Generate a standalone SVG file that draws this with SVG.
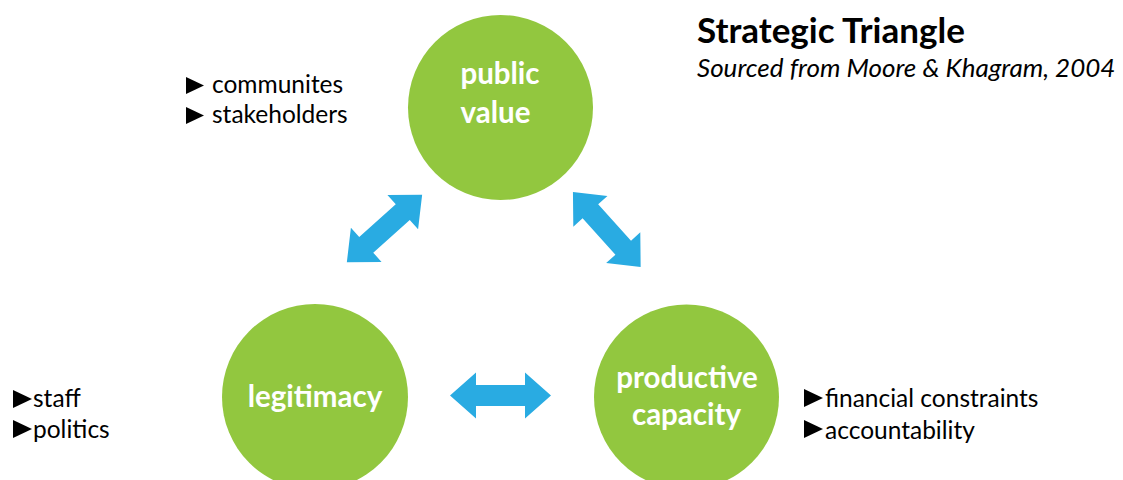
<svg xmlns="http://www.w3.org/2000/svg" width="1123" height="480" viewBox="0 0 1123 480">
<defs>
<style>
.node{fill:#92C73F}
.nt{font-family:Lato,"Liberation Sans",sans-serif;font-weight:bold;font-size:29.5px;fill:#ffffff;text-anchor:middle}
.bl{font-family:Lato,"Liberation Sans",sans-serif;font-size:24.5px;fill:#000000}
.tri{fill:#000000}
.arr{fill:#29ABE2}
</style>
<path id="dbl" d="M-50.5,0 L-24.5,-23 L-24.5,-10.5 L24.5,-10.5 L24.5,-23 L50.5,0 L24.5,23 L24.5,10.5 L-24.5,10.5 L-24.5,23 Z"/>
</defs>
<rect width="1123" height="480" fill="#ffffff"/>
<g id="title">
<text x="697" y="43" style="font-family:Lato,'Liberation Sans',sans-serif;font-weight:bold;font-size:35px;fill:#000">Strategic Triangle</text>
<text x="697" y="77" style="font-family:Lato,'Liberation Sans',sans-serif;font-style:italic;font-size:26px;fill:#000">Sourced from Moore &amp; Khagram, 2004</text>
</g>
<g id="connectors">
<use href="#dbl" class="arr" transform="translate(384.5,228.5) rotate(-41.8)"/>
<use href="#dbl" class="arr" transform="translate(606.8,229.5) rotate(47.9)"/>
<use href="#dbl" class="arr" transform="translate(500.5,395.5)"/>
</g>
<g id="public-value">
<circle class="node" cx="500.5" cy="107.5" r="92.5"/>
<text class="nt" x="500" y="84">public</text>
<text class="nt" x="495.5" y="123">value</text>
</g>
<g id="legitimacy">
<circle class="node" cx="315" cy="397" r="93"/>
<text class="nt" x="315" y="407">legitimacy</text>
</g>
<g id="productive-capacity">
<circle class="node" cx="686.5" cy="397" r="92.5"/>
<text class="nt" x="687" y="388">productive</text>
<text class="nt" x="686.5" y="425">capacity</text>
</g>
<g id="notes-public">
<polygon class="tri" points="186,77 204,85.5 186,94"/>
<text class="bl" x="212" y="93">communites</text>
<polygon class="tri" points="186,107 204,115.5 186,124"/>
<text class="bl" x="212" y="123">stakeholders</text>
</g>
<g id="notes-legitimacy">
<polygon class="tri" points="13,390 32,399 13,408"/>
<text class="bl" x="33" y="407">staff</text>
<polygon class="tri" points="13,420 32,429 13,438"/>
<text class="bl" x="33" y="438">politics</text>
</g>
<g id="notes-productive">
<polygon class="tri" points="804,389 823,398 804,407"/>
<text class="bl" x="825" y="407">financial constraints</text>
<polygon class="tri" points="804,420 823,429 804,438"/>
<text class="bl" x="825" y="439">accountability</text>
</g>
</svg>
